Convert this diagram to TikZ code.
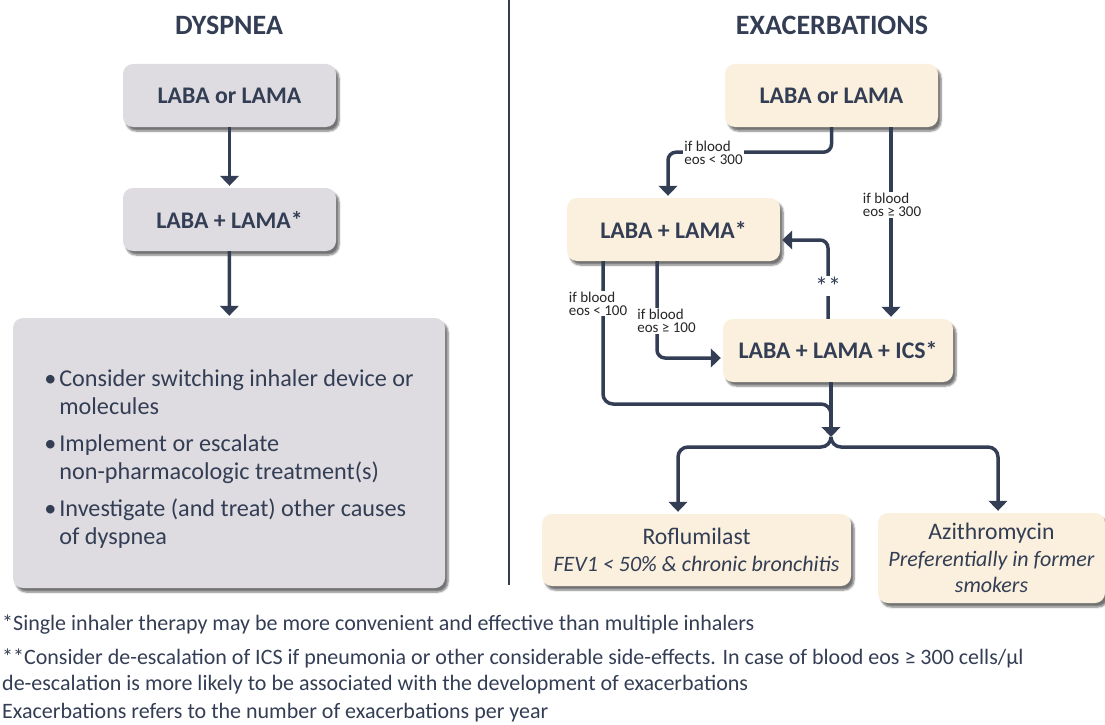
\documentclass[tikz,border=0pt]{standalone}
\usepackage{fontspec}
\setmainfont{Carlito}
\usetikzlibrary{arrows.meta,shadows.blur,positioning}
\definecolor{navy}{HTML}{333D54}
\definecolor{greyfill}{HTML}{DEDCE1}
\definecolor{creamfill}{HTML}{FAF0DD}
\begin{document}
\begin{tikzpicture}[x=1pt,y=1pt,
  box/.style={rounded corners=10pt,text=navy,minimum width=213pt,minimum height=63pt,inner sep=0pt,
    blur shadow={shadow xshift=3pt,shadow yshift=-4pt,shadow opacity=55,shadow blur steps=6}},
  dbox/.style={box,fill=greyfill},
  ebox/.style={box,fill=creamfill},
  boldtxt/.style={font=\fontsize{23.8}{27}\selectfont\bfseries},
  drugtxt/.style={font=\fontsize{22}{26.5}\selectfont,align=center},
  head/.style={font=\fontsize{28}{30}\selectfont\bfseries,text=navy},
  arr/.style={draw=navy,line width=3.5pt,-{Triangle[width=18.5pt,length=10pt]},shorten >=2pt},
  conn/.style={draw=navy,line width=3.5pt},
  cond/.style={font=\fontsize{15}{13}\selectfont,text=black!85,fill=white,inner sep=1pt,align=left},
  note/.style={font=\fontsize{22}{26}\selectfont,text=navy,anchor=west,inner sep=0pt,align=left}]
\useasboundingbox (0,0) rectangle (1105,-725);

% dyspnea side
\node[head] (dhead) at (229,-25) {DYSPNEA};
\node[dbox,boldtxt] (dlone) at (229.5,-95.5) {LABA or LAMA};
\node[dbox,boldtxt] (dltwo) at (229.5,-219.5) {LABA + LAMA*};
\node[dbox,minimum width=432pt,minimum height=270pt] (dsteps) at (229,-453) {};
\node[font=\fontsize{24.2}{28}\selectfont,text=navy,align=left] (dlist) at ([yshift=-6pt]dsteps.center)
  {\makebox[15pt][l]{\textbullet}Consider switching inhaler device or\\\hspace*{15pt}molecules\\[9pt]
   \makebox[15pt][l]{\textbullet}Implement or escalate\\\hspace*{15pt}non-pharmacologic treatment(s)\\[9pt]
   \makebox[15pt][l]{\textbullet}Investigate (and treat) other causes\\\hspace*{15pt}of dyspnea};

\draw[arr] (dlone) -- (dltwo);
\draw[arr] (dltwo) -- (dsteps);

\draw[navy,line width=1.5pt] (509,0) -- (509,-585);

% exacerbations side
\node[head] (ehead) at (832,-25) {EXACERBATIONS};
\node[ebox,boldtxt] (eone) at (831.5,-95.5) {LABA or LAMA};
\node[ebox,boldtxt] (etwo) at (673.5,-229.5) {LABA + LAMA*};
\node[ebox,boldtxt,minimum width=230pt] (eics) at (838,-350.5) {LABA + LAMA + ICS*};
\node[ebox,drugtxt,minimum width=309pt,minimum height=72pt] (roflu) at (696.5,-550)
  {{\fontsize{23.7}{26.5}\selectfont Roflumilast}\\\textit{FEV1 < 50\% \& chronic bronchitis}};
\node[ebox,drugtxt,minimum width=227pt,minimum height=90pt] (azith) at (991.5,-558)
  {{\fontsize{23.7}{26.5}\selectfont Azithromycin}\\\textit{Preferentially in former}\\\textit{smokers}};

\coordinate (bend) at (831,-404);
\coordinate (fork) at (831,-437);
\coordinate (split) at (831,-447);

\draw[arr,rounded corners=8pt] (eone.south) -- ++(0,-25) -| ([xshift=-5.5pt]etwo.north);
\draw[arr] ([xshift=59.5pt]eone.south) -- ([xshift=59.5pt]eone.south |- eics.north);
\draw[arr,rounded corners=8pt] ([xshift=-10pt]eics.north) |- ([yshift=-10.5pt]etwo.east);
\draw[arr,rounded corners=8pt] ([xshift=-16.5pt]etwo.south) |- ([yshift=-7.5pt]eics.west);
\draw[conn,rounded corners=10pt,shorten >=5pt] ([xshift=-70.5pt]etwo.south) |- (bend) -- (fork);
\draw[arr,shorten >=0pt] ([xshift=-7pt]eics.south) -- (fork);
\draw[arr,rounded corners=10pt] (fork) -- (split) -| ([xshift=-18.5pt]roflu.north);
\draw[arr,rounded corners=10pt] (fork) -- (split) -| ([xshift=6.5pt]azith.north);

\node[cond] (clthree) at (713.5,-152.5) {if blood\\eos < 300};
\node[cond] (cgthree) at (892,-205) {if blood\\eos ≥ 300};
\node[cond] (clone) at (598,-303.5) {if blood\\eos < 100};
\node[cond] (cgone) at (666.5,-321) {if blood\\eos ≥ 100};
\node[fill=white,text=navy,font=\fontsize{26}{26}\selectfont,inner sep=1pt] (deesc) at (828,-286) {**};

% footnotes
\node[note] (fnone) at (2,-625) {*Single inhaler therapy may be more convenient and effective than multiple inhalers};
\node[note] (fntwo) at (2,-671) {**Consider de-escalation of ICS if pneumonia or other considerable side-effects. In case of blood eos ≥ 300 cells/µl\\de-escalation is more likely to be associated with the development of exacerbations};
\node[note] (fnthree) at (2,-713) {Exacerbations refers to the number of exacerbations per year};
\end{tikzpicture}
\end{document}
